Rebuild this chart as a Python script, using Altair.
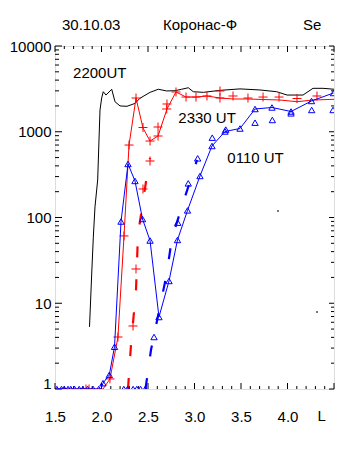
import altair as alt
import pandas as pd

# ---------------- data ----------------
# 2200UT (black line)
black_L = [1.871, 1.895, 1.912, 1.930, 1.959, 1.973, 1.984, 2.002, 2.019, 2.048, 2.110,
           2.145, 2.199, 2.274, 2.360, 2.414, 2.522, 2.611, 2.701, 2.790, 2.862, 2.933,
           2.987, 3.095, 3.274, 3.489, 3.704, 3.884, 3.995, 4.167, 4.274, 4.382, 4.500]
black_V = [5.3, 22.5, 59, 133, 274, 800, 1790, 2480, 2930, 2680, 3130,
           2240, 2000, 1980, 2140, 2460, 2880, 3130, 2990, 3010, 3130, 3260,
           2930, 2880, 3040, 3160, 3070, 2930, 2680, 2680, 3210, 3210, 3130]

# 2330UT (red line + crosses)
red_L = [1.5, 2.016, 2.091, 2.177, 2.242, 2.296, 2.371, 2.446, 2.522, 2.608, 2.704, 2.801,
         2.909, 3.016, 3.134, 3.274, 3.414, 3.575, 3.737, 3.919, 4.102, 4.274, 4.5]
red_V = [1, 1, 1.31, 4.04, 61, 700, 2475, 1106, 780, 892, 1842, 2910,
         2540, 2540, 2612, 2475, 2410, 2410, 2377, 2345, 2240, 2345, 2390]
redpt_L = [1.833, 1.866, 2.091, 2.177, 2.242, 2.296, 2.371, 2.446, 2.522, 2.608, 2.608,
           2.701, 2.704, 2.801, 2.909, 3.016, 3.134, 3.274, 3.274, 3.414, 3.575, 3.737,
           3.909, 4.102, 4.317, 2.339, 2.371, 2.446, 2.522]
redpt_V = [1, 1, 1.31, 4.04, 61, 700, 2475, 1121, 780, 892, 1136,
           1842, 2107, 2910, 2540, 2540, 2612, 2987, 2475, 2612, 2475, 2540,
           2540, 2443, 2612, 5.43, 25.1, 215, 456]
rdash_L = [2.285, 2.317, 2.371, 2.392, 2.489, 2.522]
rdash_V = [1, 3.26, 14.3, 62.7, 311, 494]

# 0110UT (blue line + triangles)
blue_L = [1.5, 1.995, 2.016, 2.084, 2.140, 2.210, 2.285, 2.360, 2.441, 2.522, 2.618, 2.726,
          2.817, 2.925, 3.059, 3.188, 3.328, 3.489, 3.651, 3.833, 4.038, 4.258, 4.495]
blue_V = [1, 1, 1.17, 1.46, 3.11, 89.8, 421, 267, 96, 53.9, 6.91, 18.2,
          54.7, 121, 305, 682, 1007, 1091, 1842, 1919, 1722, 2285, 2830]
bluept_L = [2.016, 2.084, 2.140, 2.210, 2.285, 2.360, 2.441, 2.522, 2.618, 2.726,
            2.817, 2.925, 3.059, 3.188, 3.328, 3.489, 3.651, 3.833, 4.038, 4.258, 4.495,
            2.565, 2.820, 2.933, 3.034, 3.191, 3.336, 3.651, 3.837, 4.038, 4.260, 4.490,
            1.52, 1.57, 1.60, 1.64, 1.67, 1.71, 1.76, 1.80, 1.85, 1.91, 1.97,
            2.24, 2.28, 2.34, 2.38, 2.42, 2.47]
bluept_V = [1.17, 1.46, 3.11, 89.8, 421, 267, 96, 53.9, 6.91, 18.2,
            54.7, 121, 305, 682, 1007, 1091, 1842, 1919, 1722, 2285, 2830,
            4.04, 87, 250, 490, 853, 1060, 1276, 1371, 1640, 1795, 1795,
            1, 1, 1, 1, 1, 1, 1, 1, 1, 1, 1,
            1, 1, 1, 1, 1, 1]
bdash_L = [2.473, 2.532, 2.699, 2.758, 2.887, 3.027]
bdash_V = [1, 2.85, 21.4, 57.7, 160, 469]

# stray dots
dot_L = [3.898, 4.317]
dot_V = [119, 7.9]

# annotations
ann_text = ["2200UT", "2330 UT", "0110 UT"]
ann_L = [1.694, 2.826, 3.353]
ann_V = [4200, 1255, 429]
top_text = ["30.10.03", "Коронас-Ф", "Se"]
top_L = [1.575, 2.661, 4.167]

# axis ticks
x_labels = [1.5, 2.0, 2.5, 3.0, 3.5, 4.0]
x_major = [1.5, 2.0, 2.5, 3.0, 3.5, 4.0, 4.5]
x_minor = [round(1.5 + 0.1 * i, 1) for i in range(31) if i % 5]
y_major = [1, 10, 100, 1000, 10000]
y_minor = [d * m for d in [1, 10, 100, 1000] for m in range(2, 10)]

# ---------------- chart ----------------
W, H = 279, 343
FONT = "Liberation Sans"

xscale = alt.Scale(domain=[1.5, 4.5], nice=False, zero=False)
yscale = alt.Scale(type="log", domain=[1, 10000], nice=False)
xaxis = alt.Axis(values=x_labels, format=".1f", ticks=False, domain=False, grid=False,
                 labelFont=FONT, labelFontSize=15, labelColor="black", labelPadding=20,
                 labelFlush=False, labelOverlap=False, title=None)
yaxis = alt.Axis(values=y_major, format="d", ticks=False, domain=False, grid=False,
                 labelFont=FONT, labelFontSize=15, labelColor="black", labelPadding=4,
                 labelFlush=False, labelOverlap=False, title=None,
                 labelOffset={"condition": {"test": "datum.value <= 1", "value": -6},
                              "value": 0})
X = alt.X("L:Q", scale=xscale, axis=xaxis)
Y = alt.Y("V:Q", scale=yscale, axis=yaxis)


def df(L, V):
    return pd.DataFrame({"L": L, "V": V})


black = alt.Chart(df(black_L, black_V)).mark_line(color="black", strokeWidth=1, clip=True).encode(x=X, y=Y)
red = alt.Chart(df(red_L, red_V)).mark_line(color="red", strokeWidth=1, clip=True).encode(x=X, y=Y)
redd = alt.Chart(df(rdash_L, rdash_V)).mark_line(color="red", strokeWidth=2.2, strokeDash=[11, 22],
                                                 clip=True).encode(x=X, y=Y)
redp = alt.Chart(df(redpt_L, redpt_V)).mark_point(shape="M-1,0L1,0M0,-1L0,1", filled=False, color="red",
                                                  size=81, strokeWidth=1, opacity=1, clip=True).encode(x=X, y=Y)
blue = alt.Chart(df(blue_L, blue_V)).mark_line(color="blue", strokeWidth=1, clip=True).encode(x=X, y=Y)
blued = alt.Chart(df(bdash_L, bdash_V)).mark_line(color="blue", strokeWidth=2.2, strokeDash=[11, 22],
                                                  clip=True).encode(x=X, y=Y)
bluep = alt.Chart(df(bluept_L, bluept_V)).mark_point(shape="triangle-up", filled=False, color="blue",
                                                     size=40, strokeWidth=1, opacity=1, clip=True).encode(x=X, y=Y)
dots = alt.Chart(df(dot_L, dot_V)).mark_square(size=2, color="black", opacity=1).encode(x=X, y=Y)

ann = alt.Chart(pd.DataFrame({"L": ann_L, "V": ann_V, "t": ann_text})).mark_text(
    align="left", baseline="alphabetic", font=FONT, fontSize=15, color="black"
).encode(x=X, y=Y, text="t:N")
top = alt.Chart(pd.DataFrame({"L": top_L, "t": top_text})).mark_text(
    align="left", baseline="alphabetic", font=FONT, fontSize=15, color="black"
).encode(x=X, y=alt.value(-16), text="t:N")
lab = alt.Chart(pd.DataFrame({"L": [4.368], "t": ["L"]})).mark_text(
    align="center", baseline="alphabetic", font=FONT, fontSize=15, color="black"
).encode(x=X, y=alt.value(H + 32), text="t:N")


def yticks(vals, x0, x1):
    return alt.Chart(pd.DataFrame({"V": vals})).mark_rule(color="black", strokeWidth=1).encode(
        y=Y, x=alt.value(x0), x2=alt.value(x1))


def xticks(vals, y0, y1):
    return alt.Chart(pd.DataFrame({"L": vals})).mark_rule(color="black", strokeWidth=1).encode(
        x=X, y=alt.value(y0), y2=alt.value(y1))


ticks = [
    yticks(y_major, 0, 7), yticks(y_minor, 0, 4),
    yticks(y_major, W, W - 5), yticks(y_minor, W, W - 3),
    xticks(x_major, H, H - 6), xticks(x_minor, H, H - 3),
    xticks(x_major, 0, 6), xticks(x_minor, 0, 3),
]

chart = alt.layer(
    *ticks, black, redd, red, redp, blued, blue, bluep, dots, ann, top, lab
).properties(
    width=W, height=H,
    autosize=alt.AutoSizeParams(type="none"),
    padding={"left": 47, "top": 38, "right": 10, "bottom": 50},
).configure_view(stroke="black", strokeWidth=1).configure(background="white")

chart.save("out.html", embed_options={"renderer": "svg", "actions": False})
